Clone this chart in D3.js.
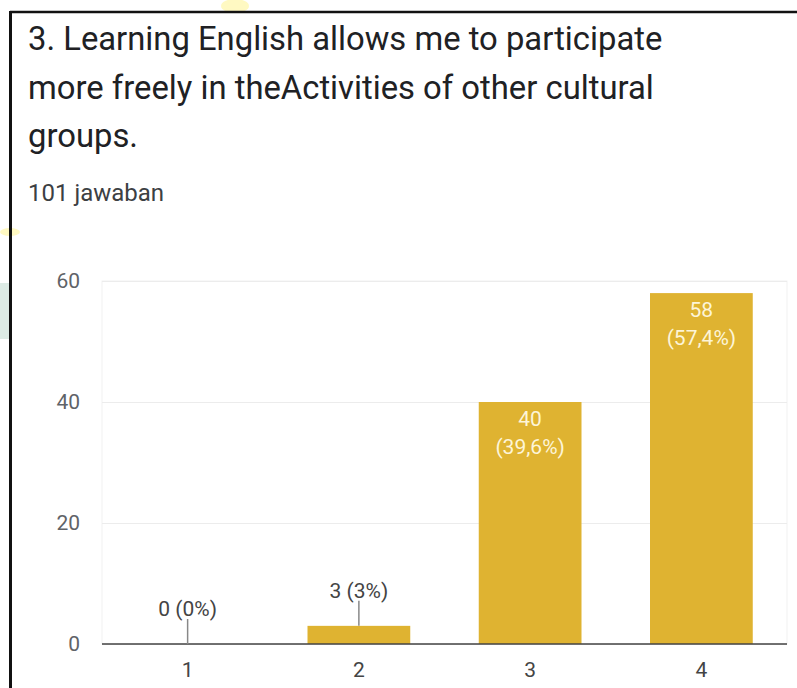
<!DOCTYPE html>
<html>
<head>
<meta charset="utf-8">
<script src="https://cdn.jsdelivr.net/npm/d3@7"></script>
<style>
  html, body { margin: 0; padding: 0; background: #fff; }
  svg { display: block; font-family: Roboto, "Open Sans", sans-serif; }
</style>
</head>
<body>
<svg id="chart" width="797" height="688"></svg>
<script>
const titleLines = ["3. Learning English allows me to participate", "more freely in theActivities of other cultural", "groups."];
const subtitle = "101 jawaban";
const categories = ["1", "2", "3", "4"];
const counts = [0, 3, 40, 58];
const percents = ["0%", "3%", "39,6%", "57,4%"];
const yTicks = [0, 20, 40, 60];

const svg = d3.select("#chart");

// faint watermark remnants
svg.append("rect").attr("x", 0).attr("y", 283).attr("width", 12).attr("height", 56).attr("fill", "#d5e6df").attr("opacity", 0.8);
svg.append("ellipse").attr("cx", 235).attr("cy", 6).attr("rx", 14).attr("ry", 7).attr("fill", "#fff7a8").attr("opacity", 0.7);
svg.append("ellipse").attr("cx", 10).attr("cy", 232).attr("rx", 10).attr("ry", 4).attr("fill", "#fff7a8").attr("opacity", 0.7);

// frame
svg.append("line").attr("x1", 10).attr("x2", 797).attr("y1", 12).attr("y2", 12).attr("stroke", "#111").attr("stroke-width", 2.5);
svg.append("line").attr("x1", 10.5).attr("x2", 10.5).attr("y1", 11).attr("y2", 688).attr("stroke", "#111").attr("stroke-width", 3);

// title
const title = svg.append("g");
titleLines.forEach((t, i) => {
  title.append("text").attr("x", 28).attr("y", 50 + i * 48.5)
    .attr("font-size", 32.8).attr("fill", "#202124").text(t);
});
svg.append("text").attr("x", 28).attr("y", 201).attr("font-size", 24).attr("fill", "#3c4043").text(subtitle);

// chart
const plot = { left: 102, right: 787, top: 281, bottom: 644 };
const x = d3.scaleBand().domain(categories).range([plot.left, plot.right]).paddingInner(0.4).paddingOuter(0.2);
const y = d3.scaleLinear().domain([0, 60]).range([plot.bottom, plot.top]);

// plot area outline (faint)
svg.append("rect").attr("x", plot.left).attr("y", plot.top).attr("width", plot.right - plot.left).attr("height", plot.bottom - plot.top)
  .attr("fill", "none").attr("stroke", "#f1f1f1").attr("stroke-width", 1);

// gridlines + y labels
const yAxis = d3.axisLeft(y).tickValues(yTicks).tickSize(-(plot.right - plot.left)).tickPadding(22);
const gy = svg.append("g").attr("transform", `translate(${plot.left},0)`).call(yAxis);
gy.select(".domain").remove();
gy.selectAll(".tick line").attr("stroke", "#ececec");
gy.selectAll(".tick text").attr("font-size", 21).attr("fill", "#5f6368").attr("font-family", "Roboto, sans-serif");

// bars
const color = "#dfb331";
svg.append("g").selectAll("rect").data(counts).join("rect")
  .attr("x", (d, i) => x(categories[i]))
  .attr("y", d => y(d))
  .attr("width", x.bandwidth())
  .attr("height", d => y(0) - y(d))
  .attr("fill", color);

// baseline
svg.append("line").attr("x1", plot.left).attr("x2", plot.right).attr("y1", y(0)).attr("y2", y(0))
  .attr("stroke", "#444").attr("stroke-width", 1.5);

// x labels
const xAxis = d3.axisBottom(x).tickSize(0).tickPadding(18);
const gx = svg.append("g").attr("transform", `translate(0,${y(0)})`).call(xAxis);
gx.select(".domain").remove();
gx.selectAll(".tick text").attr("font-size", 21).attr("fill", "#444").attr("font-family", "Roboto, sans-serif");

// value labels
const labels = svg.append("g").attr("font-size", 21).attr("text-anchor", "middle");
counts.forEach((c, i) => {
  const cx = x(categories[i]) + x.bandwidth() / 2;
  if (c >= 10) {
    labels.append("text").attr("x", cx).attr("y", y(c) + 24).attr("fill", "#fdf5d8").text(c);
    labels.append("text").attr("x", cx).attr("y", y(c) + 52).attr("fill", "#fdf5d8").text(`(${percents[i]})`);
  } else {
    const top = y(c);
    labels.append("line").attr("x1", cx).attr("x2", cx).attr("y1", top - 25).attr("y2", top)
      .attr("stroke", "#888").attr("stroke-width", 1.5);
    labels.append("text").attr("x", cx).attr("y", top - 28).attr("fill", "#444").text(`${c} (${percents[i]})`);
  }
});
</script>
</body>
</html>
